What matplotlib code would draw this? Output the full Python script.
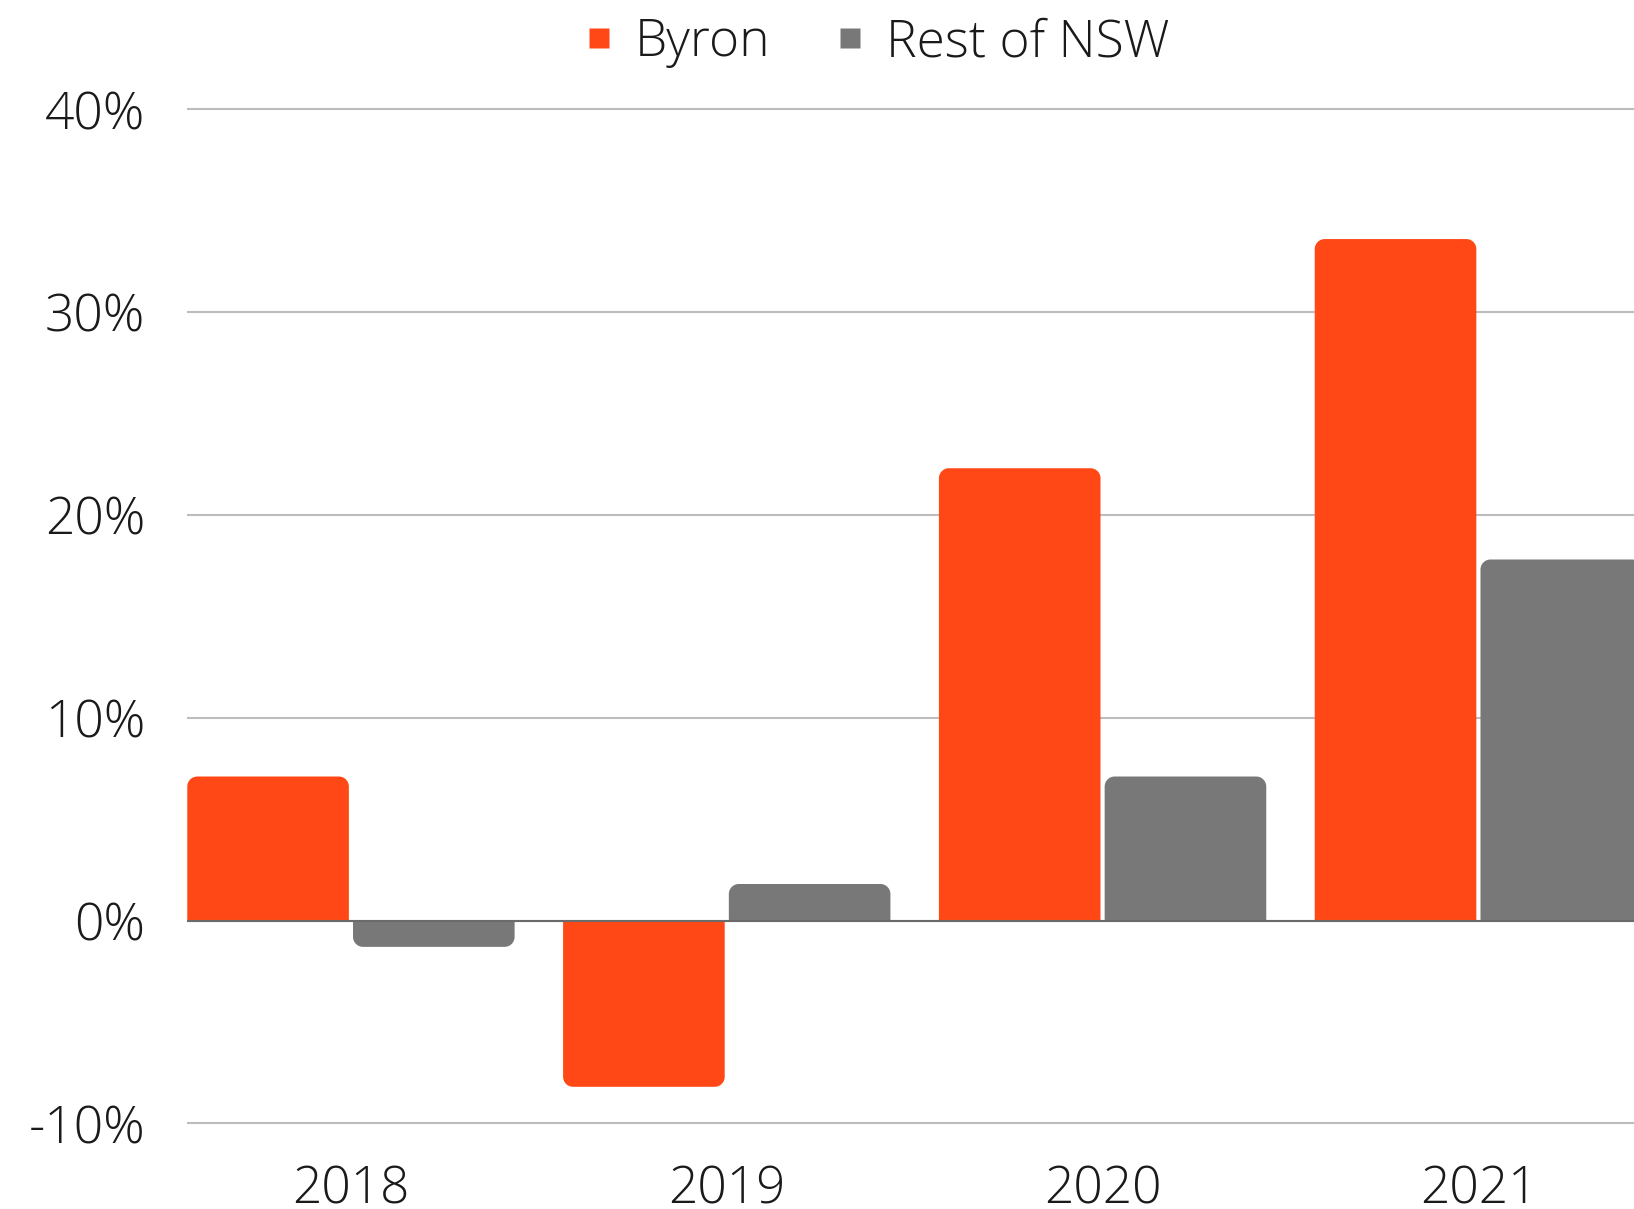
import matplotlib
matplotlib.use("Agg")
import matplotlib.pyplot as plt
from matplotlib.patches import Polygon
from matplotlib.lines import Line2D
import numpy as np

# data (% change)
years = ["2018", "2019", "2020", "2021"]
byron = [7.1, -8.2, 22.3, 33.6]
rest_nsw = [-1.3, 1.8, 7.1, 17.8]
y_ticks = [-10, 0, 10, 20, 30, 40]
y_labels = ["-10%", "0%", "10%", "20%", "30%", "40%"]

BYRON_COLOR = "#FF4815"
NSW_COLOR = "#787878"
GRID_COLOR = "#BDBDBD"
TEXT_COLOR = "#1A1A1A"

plt.rcParams["font.family"] = ["Open Sans", "DejaVu Sans"]


def round_bars(ax, bars, color, radius_px=10):
    # swap plain bars for one-piece outlines with rounded outer corners
    fig = ax.figure
    fig.canvas.draw()
    p0 = ax.transData.transform((0, 0))
    p1 = ax.transData.transform((1, 1))
    rx = radius_px / abs(p1[0] - p0[0])
    ry = radius_px / abs(p1[1] - p0[1])
    t = np.linspace(0, np.pi / 2, 12)

    for rect in bars:
        x = rect.get_x()
        w = rect.get_width()
        h = rect.get_height()
        rect.set_visible(False)

        sign = 1 if h >= 0 else -1
        tip = h
        r_y = min(ry, abs(h) / 2) * sign
        r_x = min(rx, w / 2)

        # left corner then right corner at the far end of the bar
        left_x = x + r_x - r_x * np.cos(t)
        left_y = tip - r_y + r_y * np.sin(t)
        right_x = x + w - r_x + r_x * np.sin(t)
        right_y = tip - r_y + r_y * np.cos(t)

        xs = np.concatenate([[x], left_x, right_x, [x + w]])
        ys = np.concatenate([[0], left_y, right_y, [0]])
        ax.add_patch(Polygon(np.column_stack([xs, ys]), closed=True,
                             facecolor=color, edgecolor="none", zorder=2))


def main():
    fig = plt.figure(figsize=(16.34, 12.09), dpi=100)
    ax = fig.add_axes([0.1144, 0.0541, 0.8856, 0.8723])

    x = np.arange(len(years))
    width = 0.43
    offset = 0.2205

    bars_b = ax.bar(x - offset, byron, width, color=BYRON_COLOR)
    bars_n = ax.bar(x + offset, rest_nsw, width, color=NSW_COLOR)

    ax.set_xlim(-0.4364, 3.414)
    ax.set_ylim(-11, 41)

    ax.set_yticks(y_ticks)
    ax.set_yticklabels(y_labels)
    ax.set_xticks(x)
    ax.set_xticklabels(years)

    ax.tick_params(axis="both", length=0, labelsize=37, labelcolor=TEXT_COLOR)
    ax.tick_params(axis="y", pad=30)
    ax.tick_params(axis="x", pad=15)
    for lbl in ax.get_xticklabels() + ax.get_yticklabels():
        lbl.set_fontweight("light")

    for s in ax.spines.values():
        s.set_visible(False)

    ax.set_axisbelow(True)
    ax.yaxis.grid(True, color=GRID_COLOR, linewidth=1.5)
    ax.xaxis.grid(False)
    ax.axhline(0, color="#6B6B6B", linewidth=1.5, zorder=3)

    round_bars(ax, bars_b, BYRON_COLOR)
    round_bars(ax, bars_n, NSW_COLOR)

    handles = [
        Line2D([], [], marker="s", linestyle="none", markersize=14.4,
               markerfacecolor=BYRON_COLOR, markeredgecolor="none"),
        Line2D([], [], marker="s", linestyle="none", markersize=14.4,
               markerfacecolor=NSW_COLOR, markeredgecolor="none"),
    ]
    leg = fig.legend(
        handles, ["Byron", "Rest of NSW"],
        loc="center", bbox_to_anchor=(0.538, 0.965),
        ncol=2, frameon=False, fontsize=37,
        handlelength=0.4, handletextpad=0.5, columnspacing=1.35,
        borderpad=0,
    )
    for t in leg.get_texts():
        t.set_color(TEXT_COLOR)
        t.set_fontweight("light")

    fig.savefig("out.png", dpi=100)


if __name__ == "__main__":
    main()
